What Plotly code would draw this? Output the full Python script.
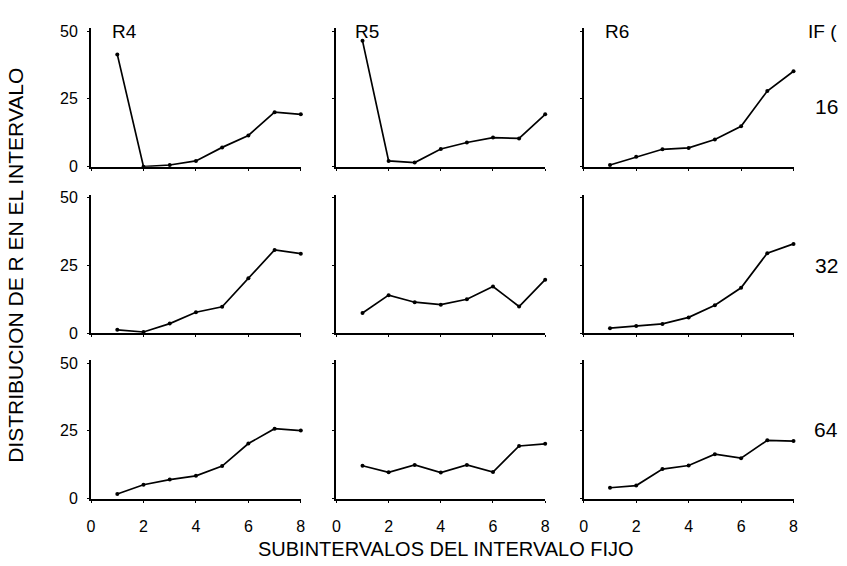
import plotly.graph_objects as go

W, H = 847, 566

subintervals = [1, 2, 3, 4, 5, 6, 7, 8]
columns = ["R4", "R5", "R6"]
if_values = ["16", "32", "64"]

# IF 16
r4_if16 = [41.4, 0.0, 0.6, 2.1, 7.1, 11.5, 20.1, 19.3]
r5_if16 = [46.4, 2.1, 1.5, 6.5, 8.9, 10.7, 10.4, 19.3]
r6_if16 = [0.6, 3.6, 6.4, 6.9, 10.0, 14.9, 27.9, 35.2]
# IF 32
r4_if32 = [1.2, 0.4, 3.5, 7.7, 9.7, 20.2, 30.7, 29.3]
r5_if32 = [7.4, 14.0, 11.4, 10.5, 12.5, 17.2, 9.8, 19.7]
r6_if32 = [1.8, 2.6, 3.4, 5.8, 10.3, 16.7, 29.5, 32.9]
# IF 64
r4_if64 = [1.7, 5.1, 7.0, 8.4, 12.0, 20.3, 25.8, 25.1]
r5_if64 = [12.1, 9.7, 12.4, 9.6, 12.4, 9.8, 19.4, 20.2]
r6_if64 = [4.0, 4.8, 10.9, 12.2, 16.4, 14.9, 21.5, 21.2]

grid = [
    [r4_if16, r5_if16, r6_if16],
    [r4_if32, r5_if32, r6_if32],
    [r4_if64, r5_if64, r6_if64],
]

x_ticks = [0, 2, 4, 6, 8]
y_ticks = [0, 25, 50]

# pixel layout of panels
col_px = [(88, 300), (336, 547), (586, 798)]
row_px = [(23, 165), (194, 336), (364, 506)]

FONT = "Liberation Sans, Arial, Helvetica, sans-serif"

fig = go.Figure()
layout = dict(
    width=W, height=H,
    margin=dict(l=0, r=0, t=0, b=0),
    paper_bgcolor="white", plot_bgcolor="white",
    showlegend=False,
    font=dict(family=FONT, color="black"),
)

idx = 0
for r in range(3):
    for c in range(3):
        idx += 1
        xa = "x" if idx == 1 else f"x{idx}"
        ya = "y" if idx == 1 else f"y{idx}"
        fig.add_trace(go.Scatter(
            x=subintervals, y=grid[r][c], xaxis=xa, yaxis=ya,
            mode="lines+markers",
            line=dict(color="black", width=1.7),
            marker=dict(color="black", size=4),
            cliponaxis=False, hoverinfo="skip",
        ))
        x0, x1 = col_px[c]
        y0, y1 = row_px[r]
        xkey = "xaxis" if idx == 1 else f"xaxis{idx}"
        ykey = "yaxis" if idx == 1 else f"yaxis{idx}"
        layout[xkey] = dict(
            domain=[x0 / W, x1 / W], anchor=ya, range=[0, 8],
            showline=True, linecolor="black", linewidth=2,
            showgrid=False, zeroline=False,
            tickmode="array", tickvals=x_ticks,
            ticktext=[str(t) for t in x_ticks],
            showticklabels=(r == 2),
            ticks="outside", ticklen=2, tickwidth=1, tickcolor="black",
            tickfont=dict(size=16, family=FONT, color="black"),
            ticklabelstandoff=10,
        )
        layout[ykey] = dict(
            domain=[1 - y1 / H, 1 - y0 / H], anchor=xa, range=[0, 51],
            showline=True, linecolor="black", linewidth=2,
            showgrid=False, zeroline=False,
            tickmode="array", tickvals=y_ticks,
            ticktext=[str(t) for t in y_ticks],
            showticklabels=(c == 0),
            ticks="outside", ticklen=2, tickwidth=1, tickcolor="black",
            tickfont=dict(size=16, family=FONT, color="black"),
            ticklabelstandoff=6,
        )

fig.update_layout(**layout)

ann = []
col_label_x = [122, 367, 620]
for c, name in enumerate(columns):
    ann.append(dict(text=name, x=col_label_x[c] / W, y=1 - 26 / H,
                    xref="paper", yref="paper", showarrow=False,
                    xanchor="center", yanchor="middle",
                    font=dict(size=19, family=FONT, color="black")))
ann.append(dict(text="IF (", x=811 / W, y=1 - 26 / H, xref="paper", yref="paper",
                showarrow=False, xanchor="left", yanchor="middle",
                font=dict(size=19, family=FONT, color="black")))
row_label_y = [103, 267, 435]
for r, name in enumerate(if_values):
    ann.append(dict(text=name, x=831 / W, y=1 - row_label_y[r] / H,
                    xref="paper", yref="paper", showarrow=False,
                    xanchor="center", yanchor="middle",
                    font=dict(size=21, family=FONT, color="black")))
ann.append(dict(text="SUBINTERVALOS DEL INTERVALO FIJO", x=447 / W, y=1 - 558 / H,
                xref="paper", yref="paper", showarrow=False,
                xanchor="center", yanchor="middle",
                font=dict(size=20, family=FONT, color="black")))
ann.append(dict(text="DISTRIBUCION DE R EN EL INTERVALO", x=12 / W, y=1 - 266 / H,
                xref="paper", yref="paper", showarrow=False, textangle=-90,
                xanchor="center", yanchor="middle",
                font=dict(size=21, family=FONT, color="black")))
fig.update_layout(annotations=ann)

fig.write_html(
    "out.html",
    config={"displayModeBar": False, "staticPlot": True},
    post_script="document.body.style.margin='0';document.body.style.overflow='hidden';",
)
